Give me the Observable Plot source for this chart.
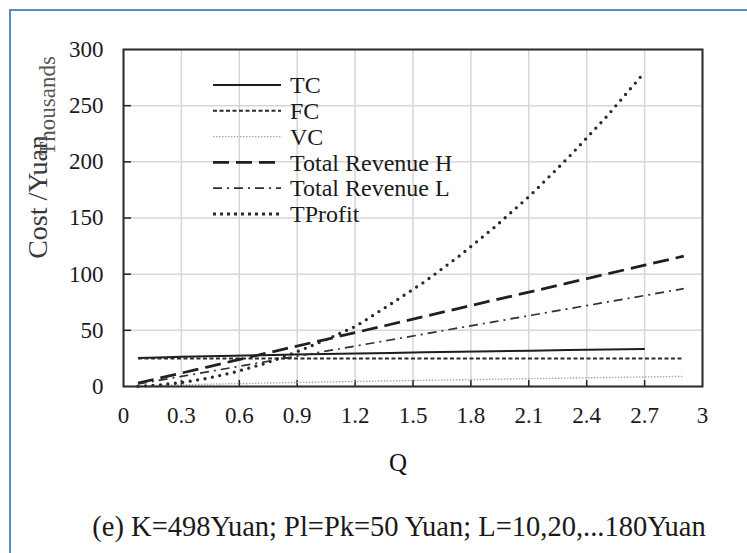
<!DOCTYPE html>
<html><head><meta charset="utf-8">
<script src="https://cdn.jsdelivr.net/npm/d3@7"></script>
<script src="https://cdn.jsdelivr.net/npm/@observablehq/plot@0.6"></script>
<style>
html,body{margin:0;padding:0;background:#fff;overflow:hidden;}
#wrap{position:relative;width:747px;height:553px;overflow:hidden;}
#wrap svg{position:absolute;left:0;top:0;}
#border{position:absolute;left:9px;top:9px;width:900px;height:700px;border-left:2px solid #5b88c6;border-top:2px solid #5b88c6;pointer-events:none;}
</style></head><body><div id="wrap"></div>
<script>
// Quantity Q (L = 10, 20, ... 180 Yuan)
const Q = [0.075,0.180,0.301,0.433,0.574,0.724,0.879,1.041,1.208,1.381,1.558,1.739,1.924,2.113,2.306,2.502,2.701,2.903];
// Series in thousands of Yuan
const TC = [25.4,25.9,26.4,26.9,27.4,27.9,28.4,28.9,29.4,29.9,30.4,30.9,31.4,31.9,32.4,32.9,33.4];
const FC = [24.9,24.9,24.9,24.9,24.9,24.9,24.9,24.9,24.9,24.9,24.9,24.9,24.9,24.9,24.9,24.9,24.9,24.9];
const VC = [0.5,1.0,1.5,2.0,2.5,3.0,3.5,4.0,4.5,5.0,5.5,6.0,6.5,7.0,7.5,8.0,8.5,9.0];
const TRH = [3.0,7.2,12.0,17.3,23.0,29.0,35.2,41.6,48.3,55.2,62.3,69.6,77.0,84.5,92.2,100.1,108.0,116.1];
const TRL = [2.3,5.4,9.0,13.0,17.2,21.7,26.4,31.2,36.2,41.4,46.7,52.2,57.7,63.4,69.2,75.1,81.0,87.1];
const TProfit = [0.2,1.3,3.5,7.2,12.7,20.0,29.5,41.0,54.0,73.0,93.0,116.0,142.0,171.0,204.0,240.0,280.0];

const seriesNames = ["TC","FC","VC","Total Revenue H","Total Revenue L","TProfit"];
const seriesValues = [TC, FC, VC, TRH, TRL, TProfit];
const xTicks = [0,0.3,0.6,0.9,1.2,1.5,1.8,2.1,2.4,2.7,3];
const xTickLabels = ["0","0.3","0.6","0.9","1.2","1.5","1.8","2.1","2.4","2.7","3"];
const yTicks = [0,50,100,150,200,250,300];
const yTickLabels = ["0","50","100","150","200","250","300"];
const xTitle = "Q";
const yTitle = "Cost /Yuan";
const unitsLabel = "Thousands";
const caption = "(e) K=498Yuan; Pl=Pk=50 Yuan; L=10,20,...180Yuan";

const styles = {
  "TC": {stroke:"#1e1e1e", strokeWidth:2, dash:null, cap:"butt"},
  "FC": {stroke:"#2a2a2a", strokeWidth:2, dash:"4 2.5", cap:"butt"},
  "VC": {stroke:"#a8a8a8", strokeWidth:1.4, dash:"1.5 1.5", cap:"butt"},
  "Total Revenue H": {stroke:"#202020", strokeWidth:2.8, dash:"16 7", cap:"butt"},
  "Total Revenue L": {stroke:"#303030", strokeWidth:1.7, dash:"9 5 2 5", cap:"butt"},
  "TProfit": {stroke:"#2a2a2a", strokeWidth:3.3, dash:"0 7.5", cap:"round"}
};

const rows = [];
seriesNames.forEach((s, i) => seriesValues[i].forEach((v, j) => rows.push({series: s, Q: Q[j], value: v})));

const FONT = "'Liberation Serif', 'Times New Roman', serif";
const W = 747, H = 553;
const mL = 123, mR = 45, mT = 49, mB = 167;
const innerW = W - mL - mR, innerH = H - mT - mB;

const lineMarks = seriesNames.map(s => Plot.line(rows.filter(r => r.series === s), {
  x: "Q", y: "value", stroke: styles[s].stroke, strokeWidth: styles[s].strokeWidth,
  strokeDasharray: styles[s].dash, strokeLinecap: styles[s].cap, curve: "linear"
}));

function legendMark(index, scales, values, dims) {
  const g = d3.create("svg:g").attr("font-family", FONT).attr("text-anchor", "start");
  const x0 = dims.marginLeft + 90, x1 = dims.marginLeft + 158, tx = dims.marginLeft + 167;
  const y0 = dims.marginTop + 36, step = 25.8;
  seriesNames.forEach((s, i) => {
    const y = y0 + i * step;
    const st = styles[s];
    g.append("line").attr("x1", x0).attr("x2", x1).attr("y1", y).attr("y2", y)
      .attr("stroke", st.stroke).attr("stroke-width", s === "TProfit" ? 3 : st.strokeWidth)
      .attr("stroke-dasharray", s === "TProfit" ? "3 4" : st.dash)
      .attr("stroke-linecap", "butt");
    g.append("text").attr("x", tx).attr("y", y).attr("dy", "0.34em")
      .attr("font-size", 24).attr("fill", "#1a1a1a").text(s);
  });
  return g.node();
}

function titlesMark(index, scales, values, dims) {
  const g = d3.create("svg:g").attr("font-family", FONT).attr("text-anchor", "middle");
  g.append("text").attr("transform", "translate(37,197) rotate(-90)")
    .attr("dy", "0.35em").attr("font-size", 28).attr("fill", "#3a3a3a").text(yTitle);
  g.append("text").attr("transform", "translate(47,106) rotate(-90)")
    .attr("dy", "0.35em").attr("font-size", 23).attr("fill", "#555").text(unitsLabel);
  g.append("text").attr("x", 398).attr("y", 462).attr("dy", "0.35em")
    .attr("font-size", 25).attr("fill", "#111").text(xTitle);
  g.append("text").attr("x", 399).attr("y", 536)
    .attr("font-size", 28.5).attr("fill", "#1a1a1a").text(caption);
  return g.node();
}

const chart = Plot.plot({
  width: W, height: H,
  marginLeft: mL, marginRight: mR, marginTop: mT, marginBottom: mB,
  style: {fontFamily: FONT, background: "transparent", overflow: "visible"},
  x: {domain: [0, 3]},
  y: {domain: [0, 300]},
  marks: [
    Plot.gridX(xTicks, {stroke: "#d6d6d6", strokeOpacity: 1, strokeWidth: 1.5}),
    Plot.gridY(yTicks, {stroke: "#d6d6d6", strokeOpacity: 1, strokeWidth: 1.5}),
    Plot.axisX(xTicks, {tickSize: 0, tickPadding: 20, fontSize: 23, fill: "#1a1a1a", tickFormat: (d, i) => xTickLabels[i], label: null}),
    Plot.axisY(yTicks, {tickSize: 0, tickPadding: 20, fontSize: 23, fill: "#1a1a1a", tickFormat: (d, i) => yTickLabels[i], label: null}),
    Plot.tickX(xTicks.slice(1, -1), {x: d => d, stroke: "#222", strokeWidth: 1.5, insetTop: innerH - 6}),
    Plot.tickY(yTicks.slice(1, -1), {y: d => d, stroke: "#222", strokeWidth: 1.5, insetRight: innerW - 8}),
    ...lineMarks,
    Plot.frame({stroke: "#2b2b2b", strokeWidth: 2}),
    legendMark,
    titlesMark
  ]
});
const wrap = document.getElementById("wrap");
wrap.appendChild(chart);
const border = document.createElement("div");
border.id = "border";
wrap.appendChild(border);
</script>
</body></html>
